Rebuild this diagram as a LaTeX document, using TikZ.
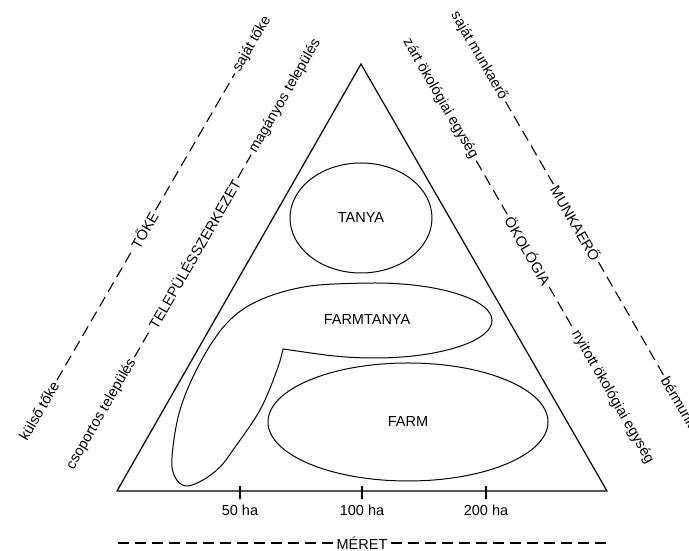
\documentclass[tikz,border=0pt]{standalone}
\usepackage{fontspec}
\setmainfont{Liberation Sans}
\usetikzlibrary{shapes.geometric}

\begin{document}
\begin{tikzpicture}[
    x=1pt,y=1pt,
    side/.style={line width=1.2pt,line join=miter},
    region/.style={line width=1pt},
    dimline/.style={line width=1.1pt,dash pattern=on 11pt off 6pt},
    lab/.style={font=\fontsize{14.5}{17}\selectfont,inner sep=3pt},
    leftlab/.style={lab,rotate=60},
    rightlab/.style={lab,rotate=-60},
    blob/.style={ellipse,draw,region,lab}
]
\useasboundingbox (0,0) rectangle (689,551);

\draw[side] (117,60) coordinate (bl) -- (361,487) coordinate (apex) -- (607,60) coordinate (br) -- cycle;
\foreach \x/\ha in {240/50,362/100,486/200} {
    \draw[side] (\x,52) -- (\x,65);
    \node[lab] (t\ha) at (\x,41) {\ha\ ha};
}

\node[blob,minimum width=142pt,minimum height=110pt] (tanya) at (361,333) {TANYA};
\node[blob,minimum width=280pt,minimum height=118pt] (farm) at (408,129) {FARM};
\draw[region] (283,202) coordinate (cusp) to[out=-8,in=180] (375,193)
    arc[start angle=-90,end angle=90,x radius=117,y radius=37.5]
    -- plot[smooth,tension=0.6] coordinates {(375,268) (310,265) (260,251) (227,228)
        (200,188) (180,141) (172,94) (175,74) (186,65) (203,71) (220,84) (233,101)
        (260,141) (277,181) (283,202)} -- cycle;
\node[lab] (farmtanya) at (367,231) {FARMTANYA};

\node[leftlab] (kulso) at (39,140) {külső tőke};
\node[leftlab] (toke) at (144,321) {TŐKE};
\node[leftlab] (sajattoke) at (252,507) {saját tőke};
\draw[dimline] (kulso) -- (toke) (toke) -- (sajattoke);

\node[leftlab] (csoportos) at (101.5,137) {csoportos település};
\node[leftlab] (telep) at (194,297) {TELEPÜLÉSSZERKEZET};
\node[leftlab] (maganyos) at (285,455) {magányos település};
\draw[dimline] (csoportos) -- (telep) (telep) -- (maganyos);

\node[rightlab] (sajatmunka) at (479,495) {saját munkaerő};
\node[rightlab] (munkaero) at (576,328) {MUNKAERŐ};
\node[rightlab] (berm) at (681,145.5) {bérmunka};
\draw[dimline] (sajatmunka) -- (munkaero) (munkaero) -- (berm);

\node[rightlab] (zart) at (440.5,452) {zárt ökológiai egység};
\node[rightlab] (okologia) at (528.5,300) {ÖKOLÓGIA};
\node[rightlab] (nyitott) at (612.5,154) {nyitott ökológiai egység};
\draw[dimline] (zart) -- (okologia) (okologia) -- (nyitott);

\node[lab] (meret) at (362,8) {MÉRET};
\coordinate (mleft) at (118,8);
\coordinate (mright) at (610,8);
\draw[dimline] (mleft) -- (meret) (meret) -- (mright);
\end{tikzpicture}
\end{document}
